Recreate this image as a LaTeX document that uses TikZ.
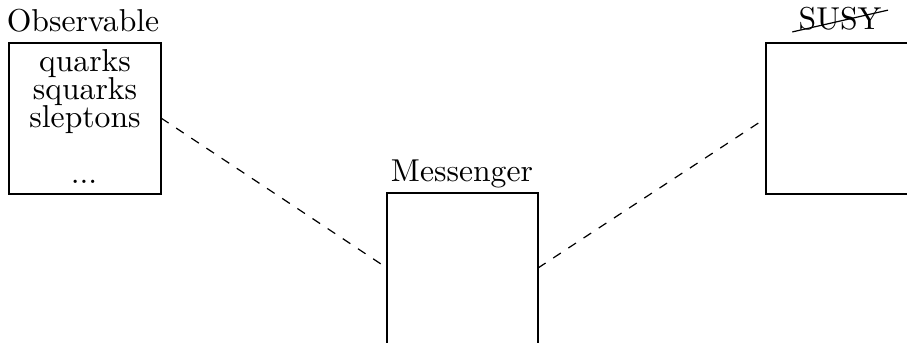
\documentclass[tikz,border=0pt]{standalone}
\begin{document}
\begin{tikzpicture}[x=0.33pt,y=-0.33pt,
  boxline/.style={draw=black,line width=0.4pt},
  lbl/.style={anchor=base,inner sep=0pt,font=\fontsize{10.45pt}{12.5pt}\selectfont},
  conn/.style={dashed,line width=0.4pt}]
\useasboundingbox (0,0) rectangle (907,342);
\begin{scope}
\clip (0,0) rectangle (907,342);
\draw[boxline] (9,43) rectangle (161,194);
\draw[boxline] (387,193) rectangle (538,360);
\draw[boxline] (766,43) rectangle (920,194);
\end{scope}
\coordinate (obsE) at (161,118);
\coordinate (mesW) at (387,268);
\coordinate (mesE) at (538,268);
\coordinate (susW) at (766,118);
\node[lbl] (obs) at (83,31) {Observable};
\node[lbl] (q1) at (85,71) {quarks};
\node[lbl] (q2) at (85,99) {squarks};
\node[lbl] (q3) at (85,127) {sleptons};
\node[lbl] (q4) at (84,183) {...};
\node[lbl] (mes) at (462,181) {Messenger};
\node[lbl] (susy) at (840,29.5) {SUSY};
\draw[line width=0.4pt] ([xshift=-1.9pt,yshift=-0.8pt]susy.base west) -- ([xshift=2pt,yshift=6.4pt]susy.base east);
\draw[conn] (obsE) -- (mesW);
\draw[conn] (mesE) -- (susW);
\end{tikzpicture}
\end{document}
